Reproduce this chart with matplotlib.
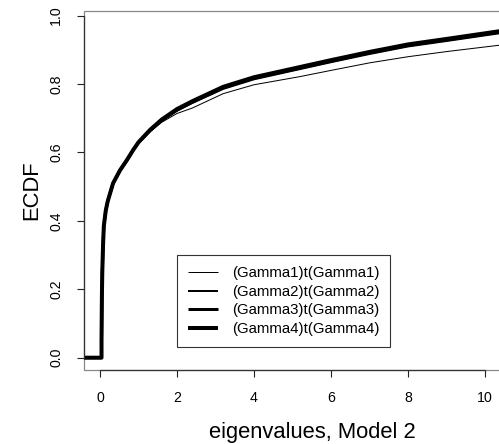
import matplotlib.pyplot as plt
from matplotlib.patches import Rectangle

plt.rcParams['font.family'] = ['Liberation Sans', 'DejaVu Sans']

# ECDF curves of the eigenvalues
x_vals = [-0.5, 0.04, 0.04, 0.05, 0.06, 0.08, 0.1, 0.15, 0.2, 0.34, 0.52, 0.7, 0.86, 1.0,
          1.3, 1.6, 2.0, 2.4, 3.2, 4.0, 5.2, 6.0, 7.0, 8.0, 9.0, 10.4, 11.5]
f_gamma4 = [0, 0, 0.05, 0.18, 0.25, 0.33, 0.385, 0.43, 0.457, 0.51, 0.548, 0.578, 0.607, 0.630,
            0.666, 0.696, 0.727, 0.750, 0.792, 0.820, 0.850, 0.870, 0.894, 0.916, 0.932, 0.955, 0.967]
f_gamma3 = [0, 0, 0.05, 0.18, 0.25, 0.33, 0.385, 0.43, 0.457, 0.51, 0.547, 0.577, 0.606, 0.629,
            0.664, 0.694, 0.724, 0.747, 0.789, 0.817, 0.847, 0.867, 0.891, 0.913, 0.929, 0.952, 0.964]
f_gamma2 = [0, 0, 0.05, 0.18, 0.25, 0.33, 0.385, 0.43, 0.457, 0.51, 0.547, 0.577, 0.606, 0.628,
            0.663, 0.692, 0.722, 0.745, 0.786, 0.814, 0.844, 0.864, 0.888, 0.910, 0.926, 0.949, 0.961]
f_gamma1 = [0, 0, 0.05, 0.18, 0.25, 0.33, 0.385, 0.43, 0.457, 0.51, 0.547, 0.576, 0.604, 0.626,
            0.660, 0.688, 0.714, 0.730, 0.772, 0.798, 0.822, 0.840, 0.862, 0.880, 0.895, 0.914, 0.924]

labels = ['(Gamma1)t(Gamma1)', '(Gamma2)t(Gamma2)', '(Gamma3)t(Gamma3)', '(Gamma4)t(Gamma4)']
curves = [f_gamma1, f_gamma2, f_gamma3, f_gamma4]
widths = [0.72, 1.44, 2.16, 2.88]

x_ticks = [0, 2, 4, 6, 8, 10]
y_ticks = [0.0, 0.2, 0.4, 0.6, 0.8, 1.0]

fig = plt.figure(figsize=(4.99, 4.44), dpi=100)
W, H = 499, 444
ax = fig.add_axes([84 / W, (H - 370) / H, (540 - 84) / W, (370 - 11) / H])

for f, lw, lab in zip(curves, widths, labels):
    ax.plot(x_vals, f, color='black', lw=lw, label=lab, solid_capstyle='butt')

ax.set_xlim(-0.415, 11.43)
ax.set_ylim(-0.036, 1.0137)

# gray box, dark axis lines
for s in ['top', 'right']:
    ax.spines[s].set_visible(False)
ax.add_patch(Rectangle((0, 0), 1, 1, transform=ax.transAxes, fill=False,
                       edgecolor='#888888', lw=0.9, clip_on=False, zorder=0))
ax.spines['bottom'].set_bounds(0, 10)
ax.spines['left'].set_bounds(0, 1)
for s in ['bottom', 'left']:
    ax.spines[s].set_color('#333333')
    ax.spines[s].set_linewidth(0.9)

ax.set_xticks(x_ticks)
ax.set_yticks(y_ticks)
ax.set_yticklabels(['%.1f' % v for v in y_ticks], rotation=90, va='center')
ax.tick_params(length=5, width=0.8, color='#222222', labelsize=10.2, pad=10)

ax.set_xlabel('eigenvalues, Model 2', fontsize=15.8, labelpad=12)
ax.set_ylabel('ECDF', fontsize=15.8, labelpad=5)

leg = ax.legend(loc='upper left', bbox_to_anchor=(2.0, 0.30), bbox_transform=ax.transData,
                borderaxespad=0, fancybox=False, framealpha=1, edgecolor='#333333',
                fontsize=10.8, handlelength=2.0, handletextpad=0.9, labelspacing=0.3,
                borderpad=0.75)
leg.get_frame().set_linewidth(0.8)

fig.savefig('out.png', dpi=100)
